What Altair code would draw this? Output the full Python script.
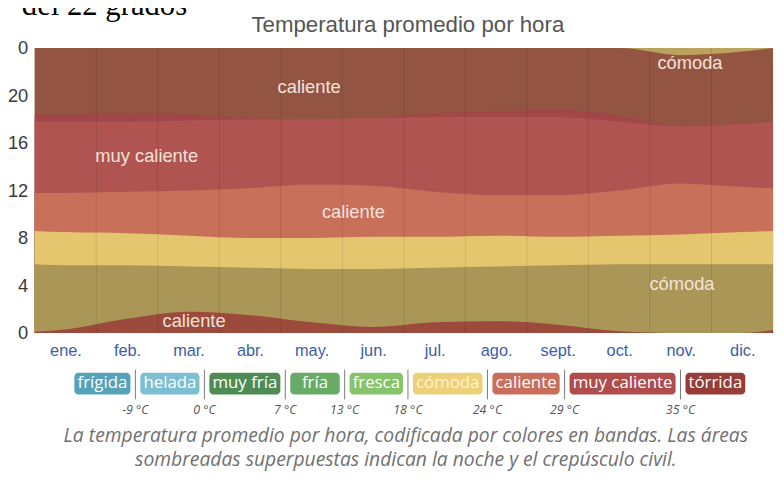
import altair as alt
import pandas as pd

# ---------------- data ----------------
months = ["ene.", "feb.", "mar.", "abr.", "may.", "jun.", "jul.",
          "ago.", "sept.", "oct.", "nov.", "dic."]
# x positions in months (0 = start of January, 12 = end of December)
x_pos = [0, 0.5, 1.5, 2.5, 3.5, 4.5, 5.5, 6.5, 7.5, 8.5, 9.5, 10.5, 11.5, 12]

# upper boundary (hour of day) of each coloured region
night_caliente_low = [0.1, 0.3, 1.2, 1.8, 1.5, 0.9, 0.5, 0.9, 1.0, 0.7, 0.15, 0.0, 0.0, 0.25]
night_comoda_low = [5.8, 5.7, 5.7, 5.6, 5.5, 5.4, 5.4, 5.5, 5.6, 5.7, 5.8, 5.8, 5.8, 5.8]
day_comoda = [8.6, 8.5, 8.4, 8.2, 8.0, 8.0, 8.1, 8.1, 8.2, 8.1, 8.2, 8.3, 8.5, 8.6]
day_caliente = [11.8, 11.8, 11.9, 12.0, 12.2, 12.5, 12.4, 11.9, 11.6, 11.6, 12.0, 12.6, 12.3, 12.2]
day_muy_caliente = [17.8, 17.8, 17.8, 17.9, 18.0, 18.0, 18.1, 18.2, 18.2, 18.2, 17.8, 17.4, 17.6, 17.8]
dusk_muy_caliente = [18.4, 18.4, 18.5, 18.4, 18.1, 18.0, 18.1, 18.5, 18.7, 18.8, 18.3, 17.4, 17.6, 17.8]
night_caliente_high = [24, 24, 24, 24, 24, 24, 24, 24, 24, 24, 24, 23.4, 23.7, 24]
night_comoda_high = [24] * 14

# painter order: highest band first
regions = [
    ("cómoda (noche)", night_comoda_high, "#bba35e"),
    ("caliente (noche)", night_caliente_high, "#935442"),
    ("muy caliente (crepúsculo)", dusk_muy_caliente, "#a1474a"),
    ("muy caliente", day_muy_caliente, "#b05452"),
    ("caliente", day_caliente, "#c8705a"),
    ("cómoda", day_comoda, "#e4c66e"),
    ("cómoda (noche) ", night_comoda_low, "#aa9656"),
    ("caliente (noche) ", night_caliente_low, "#9b4a3c"),
]

# in-chart annotations: (text, month position, hour)
annotations = [
    ("caliente", 4.46, 20.7),
    ("muy caliente", 1.82, 14.9),
    ("caliente", 5.18, 10.2),
    ("caliente", 2.59, 1.0),
    ("cómoda", 10.65, 22.7),
    ("cómoda", 10.52, 4.1),
]

legend_labels = ["frígida", "helada", "muy fría", "fría", "fresca", "cómoda",
                 "caliente", "muy caliente", "tórrida"]
legend_colors = ["#55a2b9", "#7cbfd3", "#4f8c55", "#67ab66", "#86c36a", "#edd07a",
                 "#c86e5a", "#b04c4c", "#963d38"]
legend_text_colors = ["white"] * 5 + ["#fff3cf"] + ["white"] * 3
threshold_labels = ["-9 °C", "0 °C", "7 °C", "13 °C", "18 °C", "24 °C", "29 °C", "35 °C"]

title_text = "Temperatura promedio por hora"
caption_lines = [
    "La temperatura promedio por hora, codificada por colores en bandas. Las áreas",
    "sombreadas superpuestas indican la noche y el crepúsculo civil.",
]
header_fragment = "del 22 grados"

# ---------------- layout ----------------
W, H = 746, 288
xscale = alt.Scale(domain=[0, 12], nice=False, zero=False)
yscale = alt.Scale(domain=[0, 24], nice=False)

label_expr = "[" + ",".join("'%s'" % m for m in months) + "][floor(datum.value)]"
x_axis = alt.Axis(values=[i + 0.5 for i in range(12)], labelExpr=label_expr,
                  ticks=False, domain=False, grid=False, labelFontSize=16.5,
                  labelFont="Liberation Sans", labelColor="#3c5ea8",
                  labelPadding=10)
y_axis = alt.Axis(values=[0, 4, 8, 12, 16, 20, 24],
                  labelExpr="datum.value == 24 ? '0' : datum.label",
                  ticks=False, domain=False, grid=False, labelFontSize=18.5,
                  labelFont="Liberation Sans", labelColor="#3a3a3a",
                  labelPadding=7)
x_enc = alt.X("x:Q", scale=xscale, title=None, axis=x_axis)
y_enc = alt.Y("top:Q", scale=yscale, title=None, axis=y_axis, stack=None)

layers = []
for name, tops, color in regions:
    df = pd.DataFrame({"x": x_pos, "top": tops})
    layers.append(
        alt.Chart(df).mark_area(color=color, interpolate="monotone", opacity=1)
        .encode(x=x_enc, y=y_enc)
    )

# month separators
grid_df = pd.DataFrame({"x": list(range(1, 12))})
layers.append(
    alt.Chart(grid_df).mark_rule(color="#000000", opacity=0.1, strokeWidth=1)
    .encode(x=x_enc)
)

ann_df = pd.DataFrame({"t": [a[0] for a in annotations],
                       "x": [a[1] for a in annotations],
                       "top": [a[2] for a in annotations]})
layers.append(
    alt.Chart(ann_df).mark_text(fontSize=18.5, font="Liberation Sans", color="#f4e2da")
    .encode(x=x_enc, y=y_enc, text="t:N")
)

# ---- legend (pixel layout computed from label lengths) ----
em = {"a": .556, "c": .479, "d": .614, "e": .561, "f": .336, "g": .546, "h": .614,
      "i": .26, "í": .26, "l": .26, "m": .932, "n": .614, "o": .602, "ó": .602,
      "r": .409, "s": .478, "t": .352, "u": .614, "y": .5, " ": .26}
LEG_FS = 17


def text_w(s, size=LEG_FS):
    return sum(em.get(c, .56) for c in s) * size


widths = [max(text_w(s) + 6, 50) for s in legend_labels]
gap_before, gap_after = 5, 5
total = sum(widths) + (gap_before + gap_after) * (len(widths) - 1)
start = 379 - total / 2
x0s, seps = [], []
cur = start
for i, w in enumerate(widths):
    x0s.append(cur)
    cur += w
    if i < len(widths) - 1:
        seps.append(cur + gap_before)
        cur += gap_before + gap_after

box_top, box_bot = 328, 350
leg_df = pd.DataFrame({"x0": x0s, "x1": [a + w for a, w in zip(x0s, widths)],
                       "xc": [a + w / 2 for a, w in zip(x0s, widths)],
                       "y0": [box_top] * 9, "y1": [box_bot] * 9,
                       "yc": [(box_top + box_bot) / 2] * 9,
                       "label": legend_labels, "fill": legend_colors,
                       "tc": legend_text_colors})
layers.append(
    alt.Chart(leg_df).mark_rect(cornerRadius=4)
    .encode(x=alt.X("x0:Q", scale=None), x2="x1:Q",
            y=alt.Y("y0:Q", scale=None), y2="y1:Q",
            color=alt.Color("fill:N", scale=None))
)
layers.append(
    alt.Chart(leg_df).mark_text(fontSize=LEG_FS, font="Open Sans", baseline="middle")
    .encode(x=alt.X("xc:Q", scale=None), y=alt.Y("yc:Q", scale=None),
            text="label:N", color=alt.Color("tc:N", scale=None))
)
sep_df = pd.DataFrame({"x": seps, "y0": [325] * 8, "y1": [355] * 8,
                       "yl": [366] * 8, "t": threshold_labels})
layers.append(
    alt.Chart(sep_df).mark_rule(color="#7a7a7a", strokeWidth=1)
    .encode(x=alt.X("x:Q", scale=None), y=alt.Y("y0:Q", scale=None), y2="y1:Q")
)
layers.append(
    alt.Chart(sep_df).mark_text(fontSize=12.5, font="Open Sans", fontStyle="italic",
                                color="#555555", baseline="middle")
    .encode(x=alt.X("x:Q", scale=None), y=alt.Y("yl:Q", scale=None), text="t:N")
)


def text_layer(text, x, y, **kw):
    return (alt.Chart(pd.DataFrame({"t": [text]})).mark_text(**kw)
            .encode(x=alt.value(x), y=alt.value(y), text="t:N"))


layers.append(text_layer(title_text, 377, -16, fontSize=22.5, font="Liberation Sans",
                         color="#555555", baseline="alphabetic"))
layers.append(text_layer(caption_lines[0], 375, 392, fontSize=19.5, font="Open Sans",
                         fontStyle="italic", color="#707070", baseline="middle"))
layers.append(text_layer(caption_lines[1], 375, 416, fontSize=19.5, font="Open Sans",
                         fontStyle="italic", color="#707070", baseline="middle"))
layers.append(text_layer(header_fragment, -13, -33, fontSize=31, font="Liberation Serif",
                         color="#000000", align="left", baseline="alphabetic"))

chart = (
    alt.layer(*layers)
    .properties(width=W, height=H, autosize=alt.AutoSizeParams(type="none"),
                padding={"left": 27, "top": 38, "right": 3, "bottom": 142})
    .configure_view(stroke=None)
)

chart.save("out.html", embed_options={"renderer": "svg", "actions": False})
